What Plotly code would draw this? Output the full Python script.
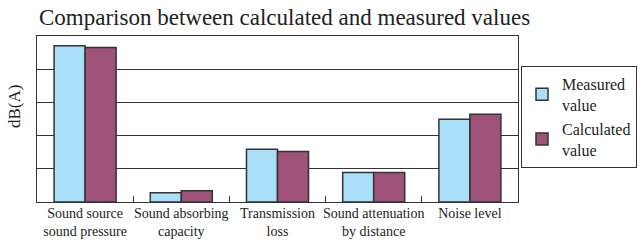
import plotly.graph_objects as go

categories = ["Sound source<br>sound pressure", "Sound absorbing<br>capacity",
              "Transmission<br>loss", "Sound attenuation<br>by distance", "Noise level"]
measured = [4.71, 0.28, 1.59, 0.89, 2.49]
calculated = [4.65, 0.34, 1.52, 0.89, 2.64]
series_names = ["Measured<br>value", "Calculated<br>value"]

SERIF = "Liberation Serif"
line_col = "#333333"
txt_col = "#222222"
fig = go.Figure()
fig.add_trace(go.Bar(x=categories, y=measured, name=series_names[0],
                     marker=dict(color="#aadff9", line=dict(color=line_col, width=1.5))))
fig.add_trace(go.Bar(x=categories, y=calculated, name=series_names[1],
                     marker=dict(color="#a05378", line=dict(color=line_col, width=1.5))))

fig.update_layout(
    width=639, height=243, autosize=False,
    margin=dict(l=37, r=121, t=36, b=41),
    paper_bgcolor="white", plot_bgcolor="white",
    barmode="group", bargap=0.355, bargroupgap=0,
    font=dict(family=SERIF, color=txt_col),
    title=dict(text="Comparison between calculated and measured values",
               font=dict(family=SERIF, size=23, color=txt_col),
               x=39 / 639, xref="container", xanchor="left", y=1 - 17 / 243, yref="container", yanchor="middle",
               pad=dict(l=0, r=0, t=0, b=0)),
    legend=dict(x=521 / 639, xref="container", xanchor="left",
                y=1 - 66 / 243, yref="container", yanchor="top",
                bordercolor=line_col, borderwidth=1,
                font=dict(size=16, family=SERIF, color=txt_col),
                tracegroupgap=2),
    showlegend=True,
    annotations=[dict(text="dB(A)", textangle=-90, xref="paper", yref="paper",
                      x=-0.048, y=0.578, xanchor="center", yanchor="middle", showarrow=False,
                      font=dict(size=17, family=SERIF, color=txt_col))],
)
fig.update_xaxes(showline=True, linecolor=line_col, linewidth=1, mirror=True,
                 ticks="inside", tickson="boundaries", ticklen=6, tickcolor=line_col,
                 tickangle=0, automargin=False, ticklabelstandoff=-2,
                 tickfont=dict(size=14, family=SERIF, color=txt_col),
                 showgrid=False)
fig.update_yaxes(range=[0, 5], dtick=1, showticklabels=False, showgrid=True,
                 gridcolor=line_col, gridwidth=1, showline=True, linecolor=line_col,
                 linewidth=1, mirror=True, zeroline=False, automargin=False)

fig.write_html("out.html", config=dict(responsive=False, displayModeBar=False),
               post_script="document.body.style.margin='0';")
